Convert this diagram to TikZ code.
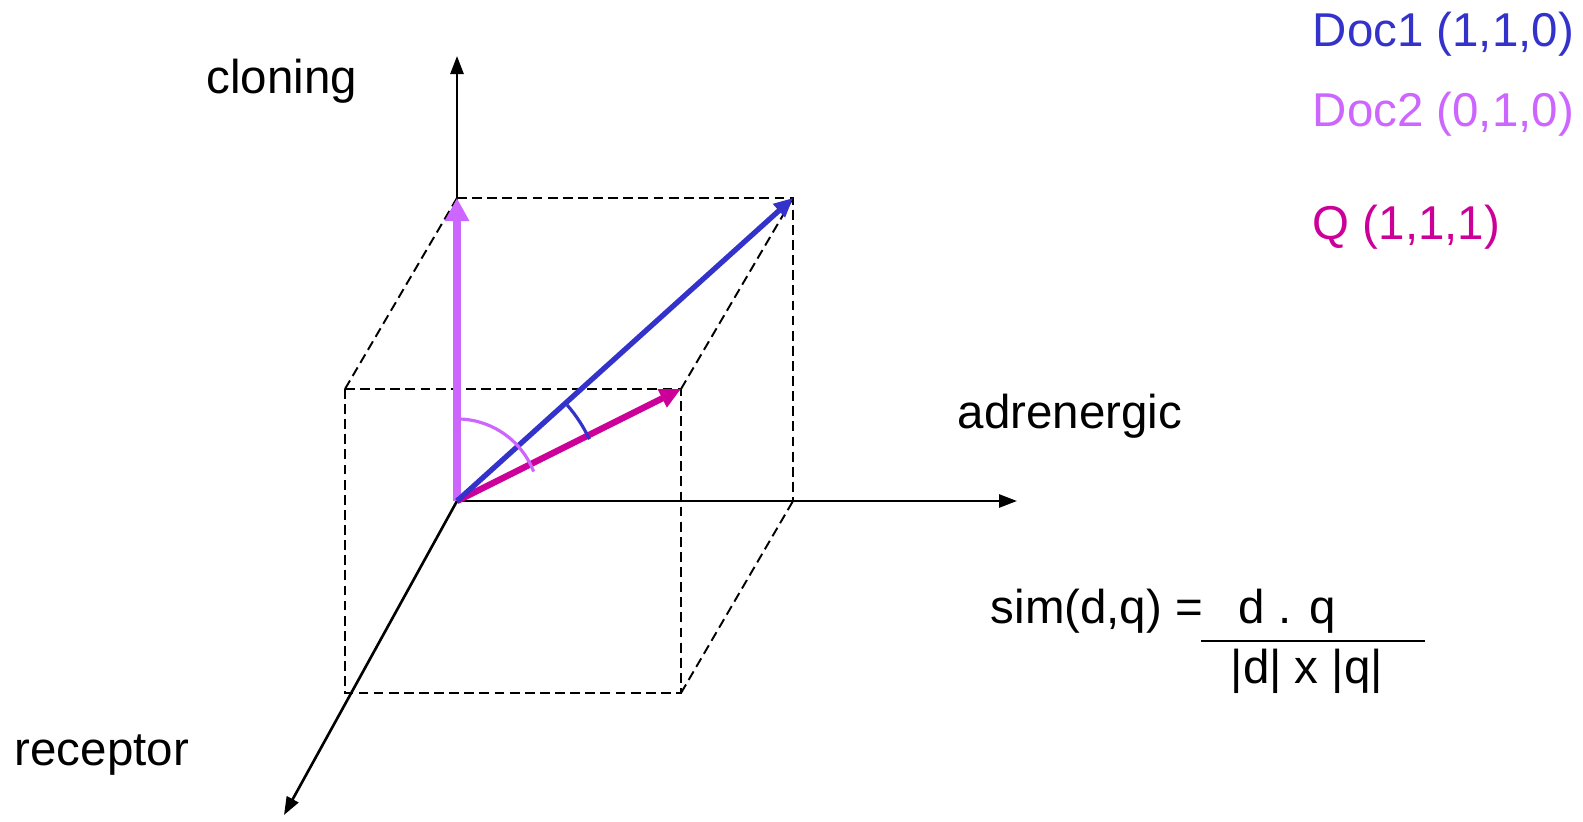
\documentclass[tikz,border=0pt]{standalone}
\usepackage{fontspec}
\setmainfont{Liberation Sans}
\usepackage{xcolor}
\usetikzlibrary{arrows.meta}

\definecolor{docone}{HTML}{3333CC}
\definecolor{doctwo}{HTML}{CC66FF}
\definecolor{query}{HTML}{CC0099}

\begin{document}
\begin{tikzpicture}[
  x=0.01cm, y=-0.01cm,
  every node/.style={font=\fontsize{13.5}{16.2}\selectfont, inner sep=0pt,
                     anchor=base west},
  axis/.style={line width=0.75pt, -{Triangle[length=0.18cm, width=0.13cm]}},
  edge/.style={line width=0.55pt, dash pattern=on 2.8pt off 1.5pt},
  vecdoc1/.style={draw=docone, line width=1.5pt,
                  -{Triangle[length=0.19cm, width=0.17cm]}},
  vecdoc2/.style={draw=doctwo, line width=2pt,
                  -{Triangle[length=0.23cm, width=0.23cm]}},
  vecq/.style={draw=query, line width=1.8pt,
               -{Triangle[length=0.21cm, width=0.19cm]}},
]
\useasboundingbox (0,0) rectangle (1583,822);

% Corners of the box
\coordinate (origin)  at (457,501);
\coordinate (clonTop) at (457,56);
\coordinate (adrTip)  at (1017,501);
\coordinate (recTip)  at (284,815);
\coordinate (backTL)  at (457,198);
\coordinate (backTR)  at (793,198);
\coordinate (backBR)  at (793,501);
\coordinate (frontTL) at (345,389);
\coordinate (frontTR) at (681,389);
\coordinate (frontBL) at (345,693);
\coordinate (frontBR) at (681,693);

% Dashed box
\draw[edge] (backTL) -- (backTR) -- (backBR);
\draw[edge] (frontTL) -- (frontTR) -- (frontBR) -- (frontBL) -- cycle;
\draw[edge] (frontTL) -- (backTL);
\draw[edge] (frontTR) -- (backTR);
\draw[edge] (frontBR) -- (backBR);

% Axes
\draw[axis] (origin) -- (clonTop);
\draw[axis] (origin) -- (adrTip);
\draw[axis] (origin) -- (recTip);

% Vectors
\draw[vecdoc2] (origin) -- (backTL);
\draw[vecq] (origin) -- (frontTR);
\draw[vecdoc1] (origin) -- (backTR);

% Angles
\draw[doctwo, line width=0.9pt] (origin) ++(90:0.82cm)
  arc[start angle=90, end angle=21, radius=0.82cm];
\draw[docone, line width=0.9pt] (origin) ++(41:1.46cm)
  arc[start angle=41, end angle=25, radius=1.46cm];

% Axis labels
\node (cloning) at (206,94) {cloning};
\node (adrenergic) at (957,429) {adrenergic};
\node (receptor) at (14,765) {receptor};

% Legend
\node[text=docone] (doc1) at (1312,47) {Doc1 (1,1,0)};
\node[text=doctwo] (doc2) at (1312,127) {Doc2 (0,1,0)};
\node[text=query] (qlab) at (1312,240) {Q (1,1,1)};

% Formula
\node (sim) at (990,623) {sim(d,q) =};
\node (num) at (1238,623) {d . q};
\node (den) at (1230,683) {|d| x |q|};
\coordinate (barL) at (1201,641);
\coordinate (barR) at (1425,641);
\draw[line width=0.5pt] (barL) -- (barR);
\end{tikzpicture}
\end{document}
